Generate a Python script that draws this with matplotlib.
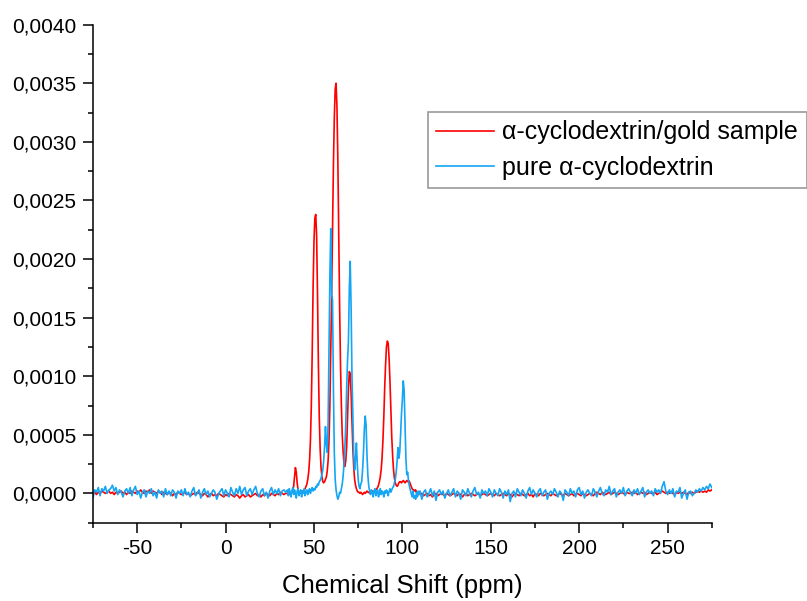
import numpy as np
import matplotlib
matplotlib.use("Agg")
import matplotlib.pyplot as plt
from matplotlib.ticker import MultipleLocator, FuncFormatter

plt.rcParams['font.family'] = ['Liberation Sans', 'DejaVu Sans']
plt.rcParams['axes.unicode_minus'] = False

# intensities below are in units of 1e-4
SCALE = 1e-4

# segment starts / steps (ppm)
LEFT_START, LEFT_STEP = -75.0, 1.0
PEAK_START, PEAK_STEP = 35.0, 0.5
RIGHT_START, RIGHT_STEP = 110.0, 1.0

gold_left = [
    0.0, 0.1, -0.1, 0.1, 0.0, 0.2, 0.1, 0.0, 0.1, 0.2, 0.0, 0.1, -0.1, 0.1, 0.0, 0.1, 0.2, 0.0, 0.1, -0.1,
    0.1, 0.0, 0.2, 0.1, 0.0, 0.2, 0.1, 0.3, 0.1, 0.0, 0.2, 0.1, 0.3, 0.0, 0.2, 0.1, 0.0, 0.2, 0.1, -0.1,
    0.1, 0.0, -0.1, 0.1, 0.0, -0.2, 0.0, -0.1, 0.1, 0.0, -0.1, 0.0, 0.1, -0.1, 0.0, -0.2, -0.1, 0.0, -0.1, 0.1,
    0.0, -0.1, -0.2, 0.0, -0.1, -0.3, -0.1, 0.0, -0.2, -0.1, -0.2, 0.0, -0.1, -0.2, -0.3, -0.1, -0.2, 0.0, -0.1, -0.2,
    -0.3, -0.1, -0.2, -0.4, -0.2, -0.1, -0.3, -0.2, -0.1, -0.3, -0.2, -0.1, 0.0, -0.2, -0.1, -0.3, -0.1, -0.2, 0.0, -0.1,
    -0.2, 0.0, -0.1, -0.2, 0.0, -0.1, 0.1, 0.0, -0.1, 0.0,
]

gold_peak = [
    0.0, 0.1, -0.1, 0.1, 0.0, 0.1, 0.2, 0.6, 1.4, 2.2,          # 35 - 39.5
    1.8, 0.9, 0.3, 0.1, 0.0, 0.1, 0.1, 0.2, 0.2, 0.3,           # 40 - 44.5
    0.4, 0.6, 0.8, 1.2, 1.8, 2.8, 4.5, 7.5, 12.0, 17.5,         # 45 - 49.5
    21.5, 23.5, 23.8, 22.0, 17.0, 11.0, 6.5, 3.8, 2.2, 1.4,     # 50 - 54.5
    1.0, 0.9, 1.0, 1.2, 1.4, 1.9, 2.8, 4.5, 7.5, 12.0,          # 55 - 59.5
    17.0, 22.5, 28.0, 32.0, 34.5, 35.0, 33.0, 28.5, 22.0, 16.0, # 60 - 64.5
    11.0, 7.5, 5.0, 3.5, 2.5, 2.3, 2.8, 4.0, 6.5, 9.0,          # 65 - 69.5
    10.4, 10.2, 8.5, 6.0, 3.8, 2.2, 1.2, 0.7, 0.4, 0.2,         # 70 - 74.5
    0.1, 0.1, 0.0, 0.1, 0.0, -0.1, 0.0, 0.1, 0.0, 0.1,          # 75 - 79.5
    0.2, 0.1, 0.1, 0.0, 0.1, 0.2, 0.2, 0.1, 0.2, 0.3,           # 80 - 84.5
    0.3, 0.4, 0.5, 0.7, 1.0, 1.4, 2.0, 3.0, 4.5, 6.5,           # 85 - 89.5
    9.0, 11.0, 12.5, 13.0, 12.8, 11.5, 9.5, 7.0, 4.8, 3.2,      # 90 - 94.5
    2.0, 1.3, 0.9, 0.7, 0.6, 0.7, 0.9, 1.0, 1.0, 0.9,           # 95 - 99.5
    1.0, 1.1, 1.0, 0.9, 1.0, 1.1, 1.0, 1.1, 1.0, 0.8,           # 100 - 104.5
    0.6, 0.4, 0.3, 0.3, 0.2, 0.3, 0.1, 0.0, -0.1, 0.0,          # 105 - 109.5
]

gold_right = [
    -0.1, 0.0, -0.2, -0.1, 0.0, -0.2, -0.1, -0.3, -0.1, 0.0, -0.2, -0.1, 0.0, -0.1, -0.2, 0.0, -0.1, -0.2, -0.1, 0.0,
    -0.1, -0.2, 0.0, -0.1, -0.3, -0.1, 0.0, -0.2, -0.1, 0.0, -0.1, -0.2, -0.1, 0.0, -0.2, -0.1, 0.0, -0.1, -0.2, -0.1,
    0.0, -0.1, -0.2, 0.0, -0.1, -0.2, -0.1, 0.0, -0.1, -0.2, 0.0, -0.1, -0.3, -0.1, 0.0, -0.1, -0.2, 0.0, -0.1, -0.2,
    -0.1, 0.0, -0.2, -0.1, -0.3, 0.0, -0.1, -0.2, 0.0, -0.1, -0.2, -0.1, 0.0, -0.1, -0.2, 0.0, -0.1, -0.2, -0.1, 0.0,
    -0.1, -0.2, 0.0, -0.1, -0.2, -0.1, 0.0, -0.2, -0.1, 0.0, -0.1, -0.2, 0.0, -0.1, -0.2, -0.1, 0.0, -0.1, -0.2, 0.0,
    0.1, 0.0, -0.1, 0.1, 0.0, -0.1, 0.0, 0.1, -0.1, 0.0, 0.1, 0.0, -0.1, 0.0, 0.1, 0.0, -0.1, 0.1, 0.0, 0.0,
    0.1, 0.0, 0.1, -0.1, 0.0, 0.1, 0.0, 0.1, -0.1, 0.0, 0.1, 0.0, 0.0, 0.1, -0.1, 0.0, 0.1, 0.2, 0.1, 0.0,
    0.1, 0.0, 0.1, 0.0, -0.1, 0.1, 0.0, 0.1, 0.0, 0.1, 0.0, -0.1, 0.1, 0.0, 0.1, 0.0, 0.1, 0.2, 0.1, 0.2,
    0.1, 0.2, 0.1, 0.3, 0.2, 0.3,
]

pure_left = [
    -0.4, 0.3, 0.1, 0.5, -0.2, 0.4, 0.2, 0.6, 0.0, 0.3, 0.4, 0.7, 0.2, 0.5, -0.1, 0.3, 0.1, -0.3, 0.2, 0.4,
    0.0, 0.5, -0.2, 0.3, 0.6, -0.1, 0.2, -0.4, 0.1, 0.3, -0.3, 0.2, 0.0, 0.4, -0.2, 0.1, -0.4, 0.3, 0.0, 0.2,
    -0.3, 0.4, -0.1, 0.2, -0.2, 0.3, 0.1, -0.4, 0.2, 0.0, 0.3, -0.2, 0.4, -0.1, 0.1, -0.3, 0.2, 0.5, -0.2, 0.0,
    0.3, -0.4, 0.1, 0.4, -0.1, 0.2, -0.3, 0.0, 0.3, 0.1, -0.5, -0.1, 0.2, 0.4, -0.2, 0.3, 0.0, -0.3, 0.5, 0.1,
    -0.2, 0.4, 0.0, 0.6, -0.1, 0.3, 0.5, -0.2, 0.2, 0.4, -0.1, 0.3, 0.6, 0.0, -0.3, 0.2, 0.4, -0.2, 0.1, -0.4,
    0.2, 0.5, -0.1, 0.3, 0.0, 0.4, -0.2, 0.2, 0.3, 0.1,
]

pure_peak = [
    0.3, -0.2, 0.4, 0.1, -0.3, 0.2, 0.5, -0.1, 0.3, 0.0,        # 35 - 39.5
    -0.4, 0.2, 0.4, -0.2, 0.1, 0.3, -0.3, 0.2, 0.0, 0.4,        # 40 - 44.5
    -0.2, 0.1, 0.3, -0.1, 0.2, 0.4, 0.0, 0.3, 0.5, 0.2,         # 45 - 49.5
    0.4, 0.3, 0.6, 0.5, 0.8, 0.7, 1.0, 1.1, 1.3, 1.6,           # 50 - 54.5
    2.0, 2.8, 4.0, 5.7, 4.2, 3.5, 6.0, 12.0, 18.5, 22.6,        # 55 - 59.5
    17.0, 16.5, 9.0, 3.5, 1.2, 0.3, -0.2, -0.5, -0.3, 0.1,      # 60 - 64.5
    0.0, 0.4, 0.8, 1.5, 2.5, 4.0, 6.0, 9.0, 11.4, 13.0,         # 65 - 69.5
    17.5, 19.8, 16.0, 10.0, 6.5, 3.2, 2.0, 3.0, 4.3, 2.5,       # 70 - 74.5
    1.2, 0.6, 0.4, 0.8, 1.0, 2.0, 3.5, 5.5, 6.6, 5.8,           # 75 - 79.5
    3.2, 1.5, 0.6, 0.2, -0.1, 0.3, 0.1, -0.3, 0.2, 0.4,         # 80 - 84.5
    -0.2, 0.1, 0.3, -0.3, 0.0, 0.4, -0.1, 0.2, 0.1, -0.3,       # 85 - 89.5
    0.2, 0.0, 0.3, 0.1, -0.2, 0.2, 0.4, 0.1, 0.3, 0.5,          # 90 - 94.5
    0.6, 0.9, 1.2, 1.8, 2.7, 3.9, 3.0, 3.5, 5.0, 6.8,           # 95 - 99.5
    8.0, 9.6, 8.8, 6.0, 3.0, 1.6, 1.8, 1.0, 0.6, 0.3,           # 100 - 104.5
    0.0, -0.3, 0.2, -0.4, -0.2, -0.5, 0.1, -0.3, 0.2, -0.1,     # 105 - 109.5
]

pure_right = [
    0.2, -0.5, 0.1, 0.3, -0.3, 0.0, 0.4, -0.2, 0.2, -0.6, 0.1, 0.3, -0.1, 0.2, -0.4, 0.0, 0.3, -0.2, 0.1, 0.4,
    -0.3, 0.2, 0.0, -0.5, 0.3, 0.1, -0.2, 0.4, 0.0, -0.3, 0.2, 0.5, -0.1, 0.1, -0.4, 0.3, 0.0, 0.2, -0.2, 0.4,
    0.1, -0.3, 0.3, 0.0, -0.2, 0.4, 0.1, -0.4, 0.2, -0.1, 0.3, -0.7, 0.0, 0.2, -0.3, 0.4, 0.1, -0.2, 0.3, 0.0,
    -0.4, 0.2, 0.5, -0.1, 0.3, 0.0, -0.3, 0.2, 0.4, -0.2, 0.1, 0.3, -0.5, 0.0, 0.2, -0.1, 0.4, 0.1, -0.3, 0.2,
    0.0, -0.6, 0.3, 0.1, -0.2, 0.4, 0.0, 0.2, -0.3, 0.3, 0.5, -0.1, 0.2, -0.4, 0.1, 0.3, 0.0, -0.2, 0.4, 0.1,
    -0.3, 0.2, 0.5, 0.0, -0.2, 0.3, 0.1, 0.6, -0.1, 0.2, 0.4, -0.3, 0.1, 0.3, 0.0, 0.5, -0.2, 0.2, 0.4, 0.1,
    -0.2, 0.3, 0.0, 0.4, -0.1, 0.2, 0.5, -0.3, 0.1, 0.3, 0.0, 0.2, -0.2, 0.4, 0.1, 0.3, 0.0, 0.6, 1.0, 0.2,
    -0.1, 0.3, 0.0, 0.4, -0.3, 0.2, 0.1, 0.5, -0.4, 0.0, 0.3, -0.5, 0.1, 0.2, -0.2, 0.0, 0.3, 0.1, 0.4, 0.2,
    0.5, 0.3, 0.6, 0.4, 0.8, 0.5,
]

labels = ["\u03b1-cyclodextrin/gold sample", "pure \u03b1-cyclodextrin"]
colors = ["#ff0000", "#14a5f5"]


def build(left, peak, right):
    x = np.concatenate([
        LEFT_START + LEFT_STEP * np.arange(len(left)),
        PEAK_START + PEAK_STEP * np.arange(len(peak)),
        RIGHT_START + RIGHT_STEP * np.arange(len(right)),
    ])
    y = np.array(left + peak + right) * SCALE
    return x, y


series = [build(gold_left, gold_peak, gold_right),
          build(pure_left, pure_peak, pure_right)]

fig = plt.figure(figsize=(8.07, 6.01), dpi=100)
ax = fig.add_axes([0.1152, 0.1303, 0.882 - 0.1152, 0.959 - 0.1303])

lines = []
for (x, y), lab, c in zip(series, labels, colors):
    ln, = ax.plot(x, y, color=c, lw=1.2, label=lab)
    lines.append(ln)

ax.set_xlim(-75, 275)
ax.set_ylim(-0.00025, 0.004)

ax.xaxis.set_major_locator(MultipleLocator(50))
ax.xaxis.set_minor_locator(MultipleLocator(25))
ax.yaxis.set_major_locator(MultipleLocator(0.0005))
ax.yaxis.set_minor_locator(MultipleLocator(0.00025))
ax.yaxis.set_major_formatter(FuncFormatter(lambda v, p: f"{v:.4f}".replace('.', ',')))

for s in ['top', 'right']:
    ax.spines[s].set_visible(False)
for s in ['left', 'bottom']:
    ax.spines[s].set_linewidth(1.1)

ax.tick_params(which='major', direction='out', length=7, width=1.1, labelsize=15, pad=5)
ax.tick_params(which='minor', direction='out', length=3.6, width=1.1)

ax.set_xlabel("Chemical Shift (ppm)", fontsize=18.5, labelpad=11)

leg = fig.legend(lines, labels, loc='upper left', bbox_to_anchor=(427.5 / 807, 1 - 111.5 / 601),
                 fontsize=18, frameon=True, fancybox=False, handlelength=2.3,
                 handletextpad=0.35, borderpad=0.35, labelspacing=0.45, borderaxespad=0)
leg.get_frame().set_edgecolor('#808080')
leg.get_frame().set_linewidth(1.2)

fig.savefig("out.png", dpi=100)
